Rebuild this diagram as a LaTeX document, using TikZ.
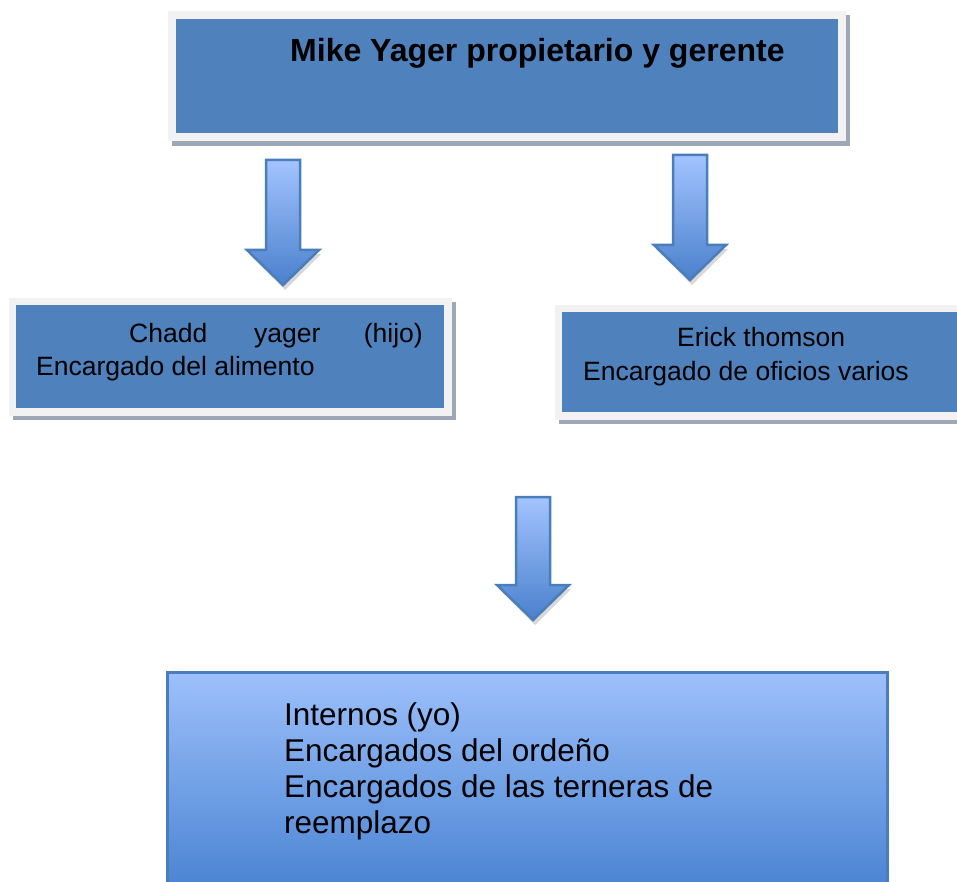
\documentclass[tikz,border=0pt]{standalone}
\usepackage{fontspec}
\setmainfont{Liberation Sans}
\definecolor{boxblue}{HTML}{4F81BD}
\definecolor{framegray}{HTML}{F2F2F2}
\definecolor{shadowgray}{HTML}{9DA7B6}
\definecolor{arrowedge}{HTML}{4A7EBB}
\definecolor{lightblue}{HTML}{A3C4FF}
\definecolor{darkblue}{HTML}{4A80CC}
\definecolor{boxtop}{HTML}{9DC0FB}
\definecolor{boxbottom}{HTML}{4480D0}
\tikzset{
  shadowrect/.style={fill=shadowgray, draw=none},
  framerect/.style={fill=framegray, draw=none},
  bluerect/.style={fill=boxblue, draw=none},
  txt/.style={anchor=base west, inner sep=0pt, text=black, font=\fontsize{26.5}{30}\selectfont},
  bigtxt/.style={anchor=base west, inner sep=0pt, text=black, font=\fontsize{31.5}{36}\selectfont},
  titletxt/.style={anchor=base west, inner sep=0pt, text=black, font=\fontsize{32}{36}\selectfont\bfseries},
  arrowbody/.style={draw=arrowedge, line width=2.5pt, line join=miter, top color=lightblue, bottom color=darkblue},
  arrowshadow/.style={fill=black!25, draw=none, opacity=0.6}
}
\newcommand\myarrow[4]{%
  % #1 centre x, #2 top y, #3 head y, #4 tip y
  \fill[arrowshadow] (#1-36+2,#3+4) -- (#1+36+2,#3+4) -- (#1+2,#4+5) -- cycle;
  \path[arrowbody] (#1-17,#2) -- (#1+17,#2) -- (#1+17,#3) -- (#1+36,#3) -- (#1,#4) -- (#1-36,#3) -- (#1-17,#3) -- cycle;
}
\begin{document}
\begin{tikzpicture}[x=1pt,y=-1pt]
\useasboundingbox (0,0) rectangle (957,882);
\clip (0,0) rectangle (957,882);
\fill[white] (0,0) rectangle (957,882);

% top box
\fill[shadowgray] (172,15) rectangle (850,146);
\fill[framegray] (168,11) rectangle (846,141);
\node[bluerect, anchor=north west, minimum width=662pt, minimum height=114pt, inner sep=0pt] (top) at (176,19) {};
\node[titletxt] (toptext) at (290,62) {Mike Yager propietario y gerente};

% left box
\fill[shadowgray] (13,302) rectangle (456,420);
\fill[framegray] (9,298) rectangle (452,416);
\node[bluerect, anchor=north west, minimum width=428pt, minimum height=103pt, inner sep=0pt] (left) at (16,305) {};
\node[txt] (l1a) at (129,342) {Chadd};
\node[txt] (l1b) at (254,342) {yager};
\node[txt, anchor=base east] (l1c) at (423,342) {(hijo)};
\node[txt] (l2) at (36,375) {Encargado del alimento};

% right box
\fill[shadowgray] (559,309) rectangle (961,424);
\fill[framegray] (555,305) rectangle (957,420);
\node[bluerect, anchor=north west, minimum width=400pt, minimum height=100pt, inner sep=0pt] (right) at (562,312) {};
\node[txt] (r1) at (677,346) {Erick thomson};
\node[txt] (r2) at (583,380) {Encargado de oficios varios};

% bottom box
\node[anchor=north west, minimum width=720pt, minimum height=230pt, inner sep=0pt,
      draw=arrowedge, line width=2.5pt, top color=boxtop, bottom color=boxbottom] (bottom) at (166,671) {};
\node[bigtxt] (b1) at (284,725) {Internos (yo)};
\node[bigtxt] (b2) at (284,761) {Encargados del ordeño};
\node[bigtxt] (b3) at (284,797) {Encargados de las terneras de};
\node[bigtxt] (b4) at (284,833) {reemplazo};

% arrows
\myarrow{283}{160}{250}{285}
\myarrow{690}{155}{245}{280}
\myarrow{533}{497}{585}{620}
\end{tikzpicture}
\end{document}
